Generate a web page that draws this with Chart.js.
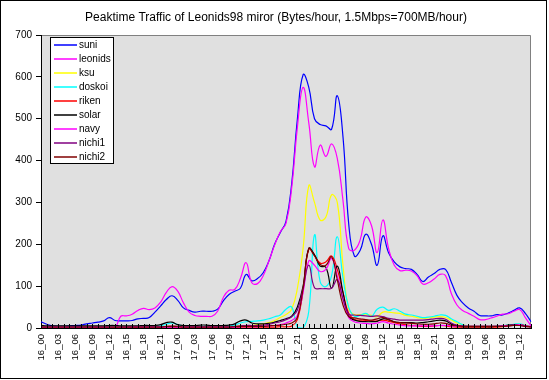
<!DOCTYPE html>
<html><head><meta charset="utf-8">
<style>html,body{margin:0;padding:0;background:#fff;}#wrap{width:549px;height:380px;}</style>
<script src="https://cdn.jsdelivr.net/npm/chart.js@4.4.0/dist/chart.umd.min.js"></script>
</head><body><div id="wrap"><canvas id="c" width="549" height="380"></canvas></div>
<script>
const titleText = "Peaktime Traffic of Leonids98 miror (Bytes/hour, 1.5Mbps=700MB/hour)";
const categories = [
"16_00","16_01","16_02","16_03","16_04","16_05","16_06","16_07","16_08","16_09","16_10","16_11","16_12","16_13","16_14","16_15","16_16","16_17","16_18","16_19","16_20","16_21","16_22","16_23",
"17_00","17_01","17_02","17_03","17_04","17_05","17_06","17_07","17_08","17_09","17_10","17_11","17_12","17_13","17_14","17_15","17_16","17_17","17_18","17_19","17_20","17_21","17_22","17_23",
"18_00","18_01","18_02","18_03","18_04","18_05","18_06","18_07","18_08","18_09","18_10","18_11","18_12","18_13","18_14","18_15","18_16","18_17","18_18","18_19","18_20","18_21","18_22","18_23",
"19_00","19_01","19_02","19_03","19_04","19_05","19_06","19_07","19_08","19_09","19_10","19_11","19_12","19_13","19_14"];
const labelEvery = 3;
const yTicks = [0,100,200,300,400,500,600,700];
const seriesNames = ["suni","leonids","ksu","doskoi","riken","solar","navy","nichi1","nichi2"];
const seriesColors = ["#0000ff","#ff00ff","#ffff00","#00ffff","#ff0000","#000000","#ff00ff","#800080","#800000"];

const suni = [15,9,5,4,4,5,6,7,10,12, 14,17,25,18,17,17,18,22,23,25, 38,53,68,77,66,48,42,38,40,40,
 40,45,65,80,88,95,128,113,118,132, 160,200,228,255,345,500,605,575,500,486, 483,475,555,457,250,172,185,224,200,150,
 220,180,158,146,142,140,128,111,122,130, 140,140,110,78,60,48,40,30,29,29, 32,31,36,42,48,35,15];
const leonids = [0,0,0,0,0,0,0,0,0,0, 0,0,0,0,28,29,33,42,47,44, 48,62,85,99,88,60,38,30,28,28,
 28,40,73,90,92,118,156,108,106,125, 160,198,230,250,335,480,575,490,385,437, 410,440,405,305,190,186,210,265,245,180,
 258,190,150,137,138,136,125,105,108,117, 128,125,83,55,42,35,28,20,20,24, 28,33,34,40,44,25,5];
const ksu = [3,3,3,3,3,3,3,3,3,3, 3,3,3,3,3,3,3,3,3,3, 3,3,4,5,4,3,3,3,3,3,
 3,3,3,3,4,5,5,6,8,10, 13,18,25,32,45,95,190,340,300,258, 265,318,300,150,45,32,32,33,30,27,
 38,38,36,35,30,28,25,23,24,26, 27,25,19,12,8,5,4,4,4,4, 4,5,6,8,9,6,3];
const doskoi = [3,3,3,3,3,3,3,3,3,3, 3,3,3,3,3,3,3,3,3,3, 4,5,9,12,8,5,4,4,4,4,
 4,4,4,5,7,12,15,16,17,19, 22,27,31,45,50,2,0,40,222,110, 99,125,218,120,50,28,30,35,28,45,
 50,42,46,40,33,31,28,25,26,28, 31,30,22,15,8,4,4,4,4,4, 4,5,7,9,10,6,3];
const riken = [1,1,1,1,1,1,1,1,1,1, 1,1,1,1,1,1,1,1,1,1, 1,1,2,2,2,1,1,1,1,1,
 1,1,1,1,1,2,2,2,2,2, 2,2,3,3,5,20,90,188,174,155, 158,172,140,85,35,20,19,18,17,17,
 19,16,13,10,8,6,5,4,4,5, 6,5,3,2,2,2,2,2,2,2, 2,3,5,7,8,5,2];
const solar = [6,5,5,5,5,5,5,5,5,5, 5,5,6,6,5,5,5,5,6,6, 6,8,13,14,8,6,6,6,7,7,
 6,6,6,7,10,17,19,12,10,10, 11,14,18,22,28,50,100,190,175,148, 145,95,148,85,28,19,16,15,15,16,
 22,20,15,13,13,13,12,13,15,17, 19,17,10,5,3,3,3,3,3,3, 4,5,7,8,8,5,3];
const navy = [1,1,1,1,1,1,1,1,1,1, 1,1,1,0,1,1,2,2,2,2, 2,2,2,2,2,2,2,2,2,2,
 2,2,2,2,2,3,3,3,3,4, 5,6,8,12,18,30,85,160,150,135, 140,166,125,70,25,15,12,11,10,12,
 15,12,9,7,5,5,5,5,5,5, 6,6,5,4,4,4,4,4,4,4, 4,5,6,7,8,5,3];
const nichi1 = [3,3,3,3,3,3,3,3,3,3, 3,3,3,3,3,3,3,3,3,3, 3,3,4,5,4,3,3,3,3,3,
 3,3,3,3,4,5,6,6,6,7, 9,12,15,20,27,43,95,150,96,94, 94,95,115,70,33,31,30,29,28,29,
 27,23,21,19,19,19,19,19,20,22, 23,21,12,7,5,4,4,4,4,4, 4,4,5,6,6,4,3];
const nichi2 = [2,2,2,2,2,2,2,2,2,2, 2,2,2,2,2,2,2,2,2,2, 2,2,3,3,3,2,2,2,2,2,
 2,2,2,2,3,4,4,4,4,4, 5,6,7,9,12,25,95,190,172,152, 150,170,115,55,27,24,22,20,19,22,
 25,20,15,13,12,11,10,9,9,10, 12,11,7,5,4,4,4,4,4,4, 4,4,5,6,6,4,3];
const seriesValues = [suni, leonids, ksu, doskoi, riken, solar, navy, nichi1, nichi2];

const FONT = "'Liberation Sans', Arial, sans-serif";

const decor = {
  id: 'decor',
  beforeDraw(chart) {
    const {ctx, chartArea: a} = chart;
    ctx.save();
    ctx.fillStyle = '#ffffff';
    ctx.fillRect(0, 0, chart.width, chart.height);
    ctx.fillStyle = '#e0e0e0';
    ctx.fillRect(a.left, a.top, a.right - a.left, a.bottom - a.top);
    ctx.strokeStyle = '#808080';
    ctx.lineWidth = 1;
    ctx.beginPath();
    ctx.moveTo(a.left, a.top + 0.5);
    ctx.lineTo(Math.round(a.right) - 0.5, a.top + 0.5);
    ctx.lineTo(Math.round(a.right) - 0.5, a.bottom);
    ctx.stroke();
    ctx.restore();
  },
  afterDraw(chart) {
    const {ctx, chartArea: a} = chart;
    const xs = chart.scales.x;
    ctx.save();
    ctx.strokeStyle = '#000';
    ctx.lineWidth = 1;
    ctx.beginPath();
    for (let i = 0; i < categories.length; i++) {
      const px = Math.round(xs.getPixelForValue(i)) + 0.5;
      ctx.moveTo(px, a.bottom);
      ctx.lineTo(px, a.bottom - 4);
    }
    ctx.stroke();
    ctx.fillStyle = '#000';
    ctx.font = '12px ' + FONT;
    ctx.textAlign = 'center';
    ctx.textBaseline = 'middle';
    ctx.fillText(titleText, 276, 18);
    const lx = 50, ly = 37, lw = 63, lh = 126;
    ctx.fillStyle = '#fff';
    ctx.fillRect(lx, ly, lw, lh);
    ctx.strokeStyle = '#000';
    ctx.strokeRect(lx + 0.5, ly + 0.5, lw, lh);
    ctx.font = '10px ' + FONT;
    ctx.textAlign = 'left';
    for (let i = 0; i < seriesNames.length; i++) {
      const yy = 45 + 14 * i;
      ctx.strokeStyle = seriesColors[i];
      ctx.lineWidth = 1.5;
      ctx.beginPath();
      ctx.moveTo(54, yy);
      ctx.lineTo(77, yy);
      ctx.stroke();
      ctx.fillStyle = '#000';
      ctx.fillText(seriesNames[i], 79, yy + 0.5);
    }
    ctx.strokeStyle = '#000';
    ctx.lineWidth = 1;
    ctx.strokeRect(0.5, 0.5, 546, 378);
    ctx.restore();
  }
};

new Chart(document.getElementById('c'), {
  type: 'line',
  data: {
    labels: categories,
    datasets: seriesNames.map((n, i) => ({
      label: n,
      data: seriesValues[i],
      borderColor: seriesColors[i],
      backgroundColor: seriesColors[i],
      borderWidth: 1.2,
      pointRadius: 0,
      tension: 0.45,
      fill: false,
      order: seriesNames.length - 1 - i
    }))
  },
  options: {
    responsive: false,
    animation: false,
    devicePixelRatio: 1,
    layout: {padding: {top: 35, right: 18, left: 0, bottom: 0}},
    plugins: {legend: {display: false}, title: {display: false}, tooltip: {enabled: false}},
    scales: {
      x: {
        type: 'category',
        afterFit: s => { s.height = 52; },
        grid: {display: true, drawOnChartArea: false, drawTicks: false},
        border: {display: true, color: '#000', width: 1},
        ticks: {
          autoSkip: false, maxRotation: 90, minRotation: 90, padding: 6,
          color: '#000', font: {family: FONT, size: 9.5},
          callback: (v, i) => (i % labelEvery === 0 ? categories[i] : '')
        }
      },
      y: {
        min: yTicks[0], max: yTicks[yTicks.length - 1],
        afterFit: s => { s.width = 41; },
        afterBuildTicks: s => { s.ticks = yTicks.map(v => ({value: v})); },
        grid: {drawOnChartArea: false, drawTicks: true, tickLength: 5, color: '#000'},
        border: {display: true, color: '#000', width: 1},
        ticks: {padding: 4, color: '#000', font: {family: FONT, size: 10}}
      }
    }
  },
  plugins: [decor]
});
</script></body></html>
